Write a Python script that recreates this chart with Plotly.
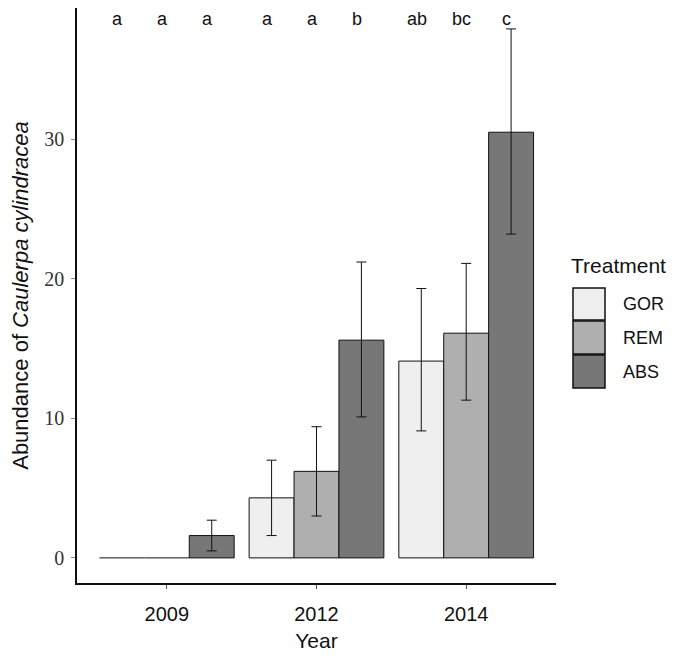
import plotly.graph_objects as go

years = ["2009", "2012", "2014"]
treatments = ["GOR", "REM", "ABS"]
colors = ["#efefef", "#afafaf", "#777777"]
values = {
    "GOR": [0.0, 4.3, 14.1],
    "REM": [0.0, 6.2, 16.1],
    "ABS": [1.6, 15.6, 30.5],
}
err_low = {
    "GOR": [0.0, 1.6, 9.1],
    "REM": [0.0, 3.0, 11.3],
    "ABS": [0.5, 10.1, 23.2],
}
err_high = {
    "GOR": [0.0, 7.0, 19.3],
    "REM": [0.0, 9.4, 21.1],
    "ABS": [2.7, 21.2, 37.9],
}
letters = {
    "GOR": ["a", "a", "ab"],
    "REM": ["a", "a", "bc"],
    "ABS": ["a", "b", "c"],
}

pos = [0, 1, 2]
bar_w = 0.3
offsets = {"GOR": -0.3, "REM": 0.0, "ABS": 0.3}

fig = go.Figure()
for t, c in zip(treatments, colors):
    v = values[t]
    show = [x > 0 for x in v]
    xs = [p for p, s in zip(pos, show) if s]
    ys = [x for x, s in zip(v, show) if s]
    hi = [h - x for h, x, s in zip(err_high[t], v, show) if s]
    lo = [x - l for l, x, s in zip(err_low[t], v, show) if s]
    fig.add_trace(go.Bar(
        x=[p + offsets[t] for p in xs], y=ys, width=bar_w, name=t,
        marker=dict(color=c, line=dict(color="#111111", width=1)),
        error_y=dict(type="data", symmetric=False, array=hi, arrayminus=lo,
                     color="#111111", thickness=1, width=5),
        showlegend=False,
    ))
    # zero-valued bars drawn as a flat line at 0
    zx, zy = [], []
    for p, x in zip(pos, v):
        if x == 0:
            zx += [p + offsets[t] - bar_w / 2, p + offsets[t] + bar_w / 2, None]
            zy += [0, 0, None]
    if zx:
        fig.add_trace(go.Scatter(x=zx, y=zy, mode="lines",
                                 line=dict(color="#111111", width=1),
                                 showlegend=False, hoverinfo="skip"))
    for p, L in zip(pos, letters[t]):
        fig.add_annotation(x=p + offsets[t] - 0.03, y=38.6, text=L, showarrow=False,
                           font=dict(family="Liberation Sans, Arial", size=18, color="#111111"),
                           xanchor="center", yanchor="middle")

# page offset (body margin) compensation
OFF = 8
W, H = 685 - OFF, 658 - OFF
L0, R0, T0, B0 = 77 - OFF, 556 - OFF, 0, 583 - OFF

def pxx(p):
    return (p - OFF - L0) / (R0 - L0)
def pxy(p):
    return (B0 - (p - OFF)) / (B0 - T0)

# manual legend
fig.add_annotation(xref="paper", yref="paper", x=pxx(569), y=pxy(265), text="Treatment",
                   showarrow=False, xanchor="left", yanchor="middle",
                   font=dict(family="Liberation Sans, Arial", size=21, color="#111111"))
boxes = [(288, 320), (321, 354), (355, 388)]
for (y0, y1), t, c in zip(boxes, treatments, colors):
    fig.add_shape(type="rect", xref="paper", yref="paper",
                  x0=pxx(573), x1=pxx(605), y0=pxy(y1), y1=pxy(y0),
                  fillcolor=c, line=dict(color="#111111", width=1.5))
    fig.add_annotation(xref="paper", yref="paper", x=pxx(621), y=pxy((y0 + y1) / 2),
                       text=t, showarrow=False, xanchor="left", yanchor="middle",
                       font=dict(family="Liberation Sans, Arial", size=18, color="#111111"))

fig.update_layout(
    width=W, height=H,
    margin=dict(l=L0, r=W - R0, t=T0, b=H - B0),
    plot_bgcolor="white", paper_bgcolor="white",
    barmode="overlay",
    xaxis=dict(range=[-0.6, 2.6], tickvals=pos, ticktext=years,
               showgrid=False, zeroline=False, showline=True, linecolor="#111111", linewidth=1.5,
               ticks="outside", ticklen=4, tickcolor="#555555", ticklabelstandoff=8,
               tickfont=dict(family="Liberation Sans, Arial", size=20, color="#111111"),
               title=dict(text="Year", font=dict(family="Liberation Sans, Arial", size=21, color="#111111"),
                          standoff=10)),
    yaxis=dict(range=[-1.8, 39.4], tickvals=[0, 10, 20, 30],
               showgrid=False, zeroline=False, showline=True, linecolor="#111111", linewidth=1.5,
               ticks="outside", ticklen=4, tickcolor="#888888", ticklabelstandoff=3,
               tickfont=dict(family="Liberation Serif, Times New Roman", size=20, color="#333333"),
               title=dict(text="Abundance of <i>Caulerpa cylindracea</i>",
                          font=dict(family="Liberation Sans, Arial", size=22, color="#111111"),
                          standoff=14)),
)

fig.write_html("out.html")
